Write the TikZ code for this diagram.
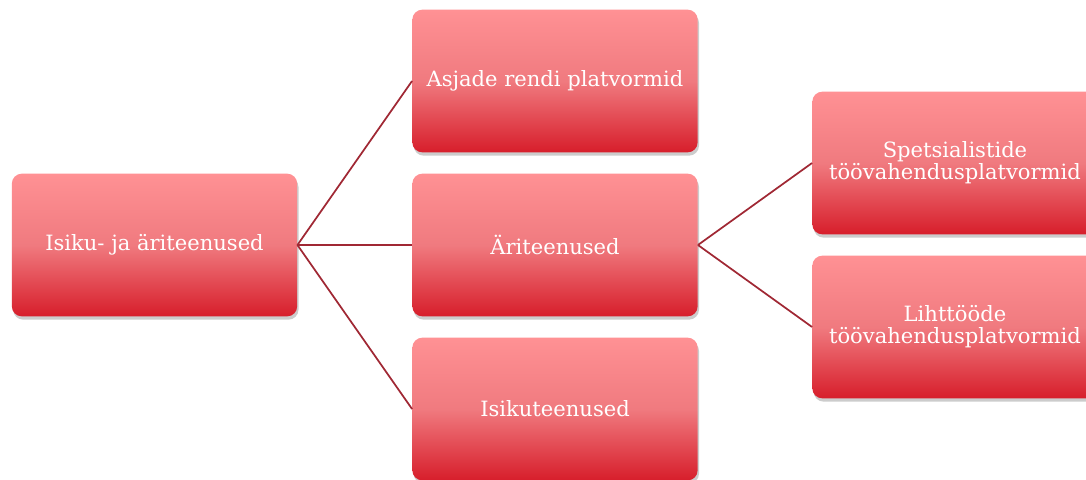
\documentclass[tikz,border=0pt]{standalone}
\usepackage{fontspec}
\setmainfont{DejaVu Serif}
\usepackage{tikz}
\usetikzlibrary{shadows}

\definecolor{boxtop}{RGB}{255,145,148}
\definecolor{boxmid}{RGB}{240,122,127}
\definecolor{boxbot}{RGB}{215,30,43}
\definecolor{linkred}{RGB}{160,40,52}

\begin{document}
\begin{tikzpicture}[x=0.75pt,y=-0.75pt,
  box/.style={rectangle,rounded corners=7.5pt,minimum width=214pt,minimum height=107pt,
    top color=boxtop,bottom color=boxbot,middle color=boxmid,
    drop shadow={shadow xshift=1pt,shadow yshift=-2.5pt,opacity=0.2,fill=black},
    text=white,align=center,font=\fontsize{15.8}{16.5}\selectfont},
  link/.style={draw=linkred,line width=1.3pt}]
\useasboundingbox (0,0) rectangle (1086,479);

\node[box] (root) at (154.5,245) {Isiku- ja äriteenused};
\node[box] (rent) at (555,81) {Asjade rendi platvormid};
\node[box] (biz) at (555,245) {Äriteenused};
\node[box] (pers) at (555,409) {Isikuteenused};
\node[box] (spec) at (955,163) {Spetsialistide\\töövahendusplatvormid};
\node[box] (simple) at (955,327) {Lihttööde\\töövahendusplatvormid};

\draw[link] (root.east) -- (rent.west);
\draw[link] (root.east) -- (biz.west);
\draw[link] (root.east) -- (pers.west);
\draw[link] (biz.east) -- (spec.west);
\draw[link] (biz.east) -- (simple.west);
\end{tikzpicture}
\end{document}
